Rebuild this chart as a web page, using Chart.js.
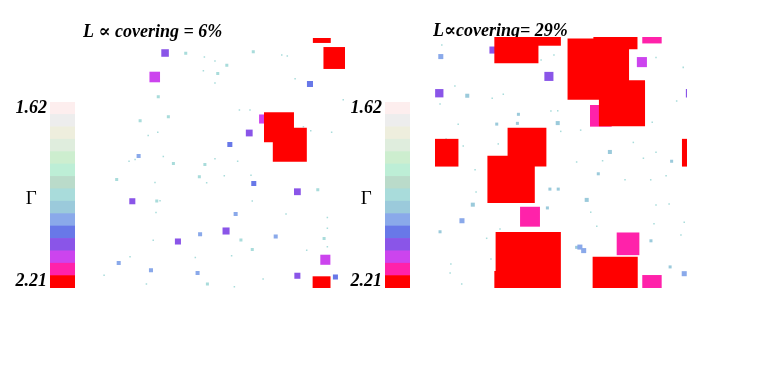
<!DOCTYPE html>
<html>
<head>
<meta charset="utf-8">
<script src="https://cdn.jsdelivr.net/npm/chart.js@4.4.1/dist/chart.umd.min.js"></script>
<style>
  body { margin: 0; background: #fff; width: 771px; height: 385px; position: relative; overflow: hidden; }
  canvas { position: absolute; }
</style>
</head>
<body>
<canvas id="barLeft" width="80" height="230" style="left:0;top:80px"></canvas>
<canvas id="sqLeft" width="262" height="268" style="left:83px;top:20px"></canvas>
<canvas id="barRight" width="80" height="230" style="left:335px;top:80px"></canvas>
<canvas id="sqRight" width="254" height="269" style="left:433px;top:19px"></canvas>
<script>
// colour scale, top (Γ = 1.62) to bottom (Γ = 2.21)
const gammaColors = ['#fdeeee', '#ededed', '#eeeedd', '#dfeddd', '#cdeecf', '#bdeed6', '#badbca',
  '#a9dcdb', '#9bcadb', '#8aa9ea', '#6878e8', '#8a55e8', '#cc44ee', '#ff22aa', '#ff0000'];
const gammaLabels = ['2.21', 'Γ', '1.62']; // bottom, middle, top
const titles = ['L ∝ covering = 6%', 'L∝covering= 29%'];

// squares: [x, y, side, colour level]  (x, y in 0..100)
const leftSquares = [
  [90.8, 101.6, 7.1, 14], [95.8, 92.0, 8.7, 14], [73.8, 64.3, 11.9, 14], [78.1, 57.3, 13.5, 14], [90.7, 1.1, 7.1, 14],
  [24.5, 84.4, 4.2, 12], [67.7, 67.6, 3.6, 12], [92.2, 11.3, 4.0, 12],
  [28.6, 94.0, 3.0, 11], [62.0, 62.0, 2.7, 11], [81.1, 38.5, 2.7, 11], [15.6, 34.7, 2.4, 11],
  [52.8, 22.8, 2.8, 11], [33.7, 18.6, 2.4, 11], [81.1, 4.9, 2.4, 11],
  [86.1, 81.6, 2.4, 10], [54.3, 57.4, 2.0, 10], [63.8, 41.8, 2.0, 10], [96.2, 4.4, 2.0, 10],
  [18.1, 52.8, 1.6, 9], [56.6, 29.6, 1.6, 9], [42.5, 21.5, 1.6, 9], [72.5, 20.6, 1.6, 9],
  [10.2, 10.0, 1.6, 9], [23.0, 7.1, 1.6, 9], [41.5, 6.0, 1.6, 9],
  [36.8, 93.9, 1.2, 7], [63.6, 94.5, 1.2, 7], [53.1, 89.1, 1.2, 7], [49.5, 85.8, 1.2, 7], [25.9, 76.5, 1.2, 7],
  [29.9, 68.5, 1.2, 7], [18.7, 66.9, 1.2, 7], [31.9, 49.8, 1.2, 7], [44.4, 49.4, 1.2, 7], [9.4, 43.4, 1.2, 7],
  [42.2, 44.5, 1.2, 7], [89.2, 39.3, 1.2, 7], [25.3, 34.8, 1.2, 7], [58.7, 19.2, 1.2, 7], [63.2, 15.4, 1.2, 7],
  [91.7, 19.8, 1.2, 7], [45.4, 1.6, 1.2, 7],
  [44.2, 92.4, 0.6, 7], [48.4, 90.8, 0.6, 7], [74.9, 93.2, 0.6, 7], [77.1, 92.8, 0.6, 7], [43.8, 86.9, 0.6, 7],
  [48.4, 82.0, 0.6, 7], [80.2, 83.7, 0.6, 7], [99.3, 75.3, 0.6, 7], [58.1, 71.2, 0.6, 7], [62.3, 71.2, 0.6, 7],
  [25.7, 62.3, 0.6, 7], [21.9, 61.0, 0.6, 7], [86.4, 62.9, 0.6, 7], [94.7, 62.3, 0.6, 7], [83.5, 64.5, 0.6, 7],
  [27.9, 52.6, 0.6, 7], [48.4, 51.7, 0.6, 7], [16.7, 51.4, 0.6, 7], [14.3, 50.7, 0.6, 7], [57.4, 50.7, 0.6, 7],
  [24.6, 42.2, 0.6, 7], [45.1, 42.1, 0.6, 7], [52.1, 44.9, 0.6, 7], [62.7, 45.1, 0.6, 7], [26.6, 34.9, 0.6, 7],
  [63.2, 34.8, 0.6, 7], [25.0, 30.2, 0.6, 7], [76.6, 29.6, 0.6, 7], [93.0, 28.2, 0.6, 7], [93.0, 23.9, 0.6, 7],
  [23.9, 19.1, 0.6, 7], [93.0, 16.5, 0.6, 7], [84.8, 15.1, 0.6, 7], [14.7, 12.5, 0.6, 7], [40.6, 12.2, 0.6, 7],
  [55.0, 12.9, 0.6, 7], [4.4, 5.1, 0.6, 7], [21.2, 1.6, 0.6, 7], [56.1, 0.5, 0.6, 7], [67.5, 3.6, 0.6, 7]
];

const rightSquares = [
  [32.3, 98.3, 17.5, 14], [44.0, 102.5, 11.9, 14], [64.8, 87.2, 24.4, 14], [71.6, 103.9, 17.5, 14],
  [74.2, 73.6, 18.3, 14], [3.8, 53.9, 11.0, 14], [103.5, 53.9, 11.0, 14], [36.5, 56.1, 15.4, 14],
  [30.2, 43.3, 18.8, 14], [37.0, 9.3, 25.9, 14], [29.5, 0.8, 11.9, 14], [71.5, 3.5, 17.9, 14],
  [86.1, 101.3, 7.7, 13], [65.8, 68.6, 8.6, 13], [37.7, 28.4, 7.9, 13], [76.6, 17.6, 9.0, 13], [86.1, 1.3, 7.7, 13],
  [82.1, 90.0, 4.0, 12],
  [23.0, 94.8, 2.8, 11], [45.2, 84.3, 3.6, 11], [1.7, 77.6, 3.3, 11], [101.2, 77.6, 3.3, 11],
  [2.3, 92.2, 2.0, 9], [10.7, 26.8, 2.0, 9], [57.5, 16.3, 2.0, 9], [59.0, 14.9, 2.0, 9], [98.9, 5.7, 2.0, 9],
  [12.8, 76.6, 1.6, 8], [48.7, 65.7, 1.6, 8], [69.4, 54.2, 1.6, 8], [60.2, 35.1, 1.6, 8], [15.0, 33.2, 1.6, 8],
  [93.9, 50.5, 1.2, 8], [45.6, 39.4, 1.2, 8], [48.9, 39.4, 1.2, 8], [44.6, 31.9, 1.2, 8], [2.0, 22.4, 1.2, 8],
  [85.7, 18.8, 1.2, 8], [93.3, 8.4, 1.2, 8], [33.1, 69.2, 1.2, 8], [24.5, 65.3, 1.2, 8], [32.7, 65.6, 1.2, 8],
  [64.8, 45.5, 1.2, 8], [56.2, 16.2, 1.2, 8],
  [2.7, 96.8, 0.6, 7], [47.2, 92.8, 0.6, 7], [42.1, 90.8, 0.6, 7], [87.7, 91.8, 0.6, 7], [98.5, 87.9, 0.6, 7],
  [7.9, 80.5, 0.6, 7], [27.1, 77.2, 0.6, 7], [22.7, 75.6, 0.6, 7], [2.0, 73.3, 0.6, 7], [46.0, 70.5, 0.6, 7],
  [48.7, 70.6, 0.6, 7], [95.9, 74.5, 0.6, 7], [49.9, 62.4, 0.6, 7], [57.8, 62.9, 0.6, 7], [86.2, 66.0, 0.6, 7],
  [9.2, 65.2, 0.6, 7], [25.1, 57.4, 0.6, 7], [11.2, 56.6, 0.6, 7], [4.4, 59.4, 0.6, 7], [78.7, 58.0, 0.6, 7],
  [82.7, 51.7, 0.6, 7], [87.7, 54.1, 0.6, 7], [15.9, 47.1, 0.6, 7], [56.2, 50.2, 0.6, 7], [66.5, 50.7, 0.6, 7],
  [75.4, 43.1, 0.6, 7], [85.6, 43.1, 0.6, 7], [91.7, 44.7, 0.6, 7], [16.3, 38.2, 0.6, 7], [61.8, 30.2, 0.6, 7],
  [87.7, 33.1, 0.6, 7], [92.9, 33.5, 0.6, 7], [64.2, 24.6, 0.6, 7], [86.9, 25.6, 0.6, 7], [25.8, 23.5, 0.6, 7],
  [20.5, 19.8, 0.6, 7], [97.6, 21.1, 0.6, 7], [98.9, 26.2, 0.6, 7], [22.2, 11.6, 0.6, 7], [6.3, 9.6, 0.6, 7],
  [6.0, 6.0, 0.6, 7], [10.6, 1.6, 0.6, 7]
];

const serif = "'Liberation Serif', 'DejaVu Serif', serif";

function colorBar(id) {
  const n = gammaColors.length;
  const datasets = gammaColors.slice().reverse().map(c => ({
    data: [1], backgroundColor: c, borderWidth: 0, barPercentage: 1, categoryPercentage: 1
  }));
  new Chart(document.getElementById(id), {
    type: 'bar',
    data: { labels: [''], datasets },
    options: {
      responsive: false,
      animation: false,
      events: [],
      layout: { padding: { top: 22, bottom: 22, left: 0, right: 5 } },
      plugins: { legend: { display: false }, tooltip: { enabled: false } },
      scales: {
        x: { stacked: true, display: false },
        y: {
          stacked: true, min: 0, max: n,
          grid: { display: false, drawTicks: false },
          border: { display: false },
          afterFit: s => { s.width = 50; },
          afterBuildTicks: s => { s.ticks = [0.5, n / 2 - 0.3, n - 0.5].map(v => ({ value: v })); },
          ticks: {
            padding: 3,
            crossAlign: 'center',
            color: '#000',
            callback: (v, i) => gammaLabels[i],
            font: ctx => ctx.index === 1
              ? { family: serif, size: 19 }
              : { family: serif, size: 18, style: 'italic', weight: 'bold' }
          }
        }
      }
    }
  });
}

function squareChart(id, title, titleSize, squares, gap) {
  const points = squares.slice()
    .sort((a, b) => a[2] - b[2])
    .map(p => ({ x: p[0], y: p[1], s: p[2], g: p[3] }));

  new Chart(document.getElementById(id), {
    type: 'scatter',
    data: {
      datasets: [{
        data: points,
        pointStyle: 'rect',
        pointBorderWidth: 0,
        clip: 0,
        pointRadius: ctx => {
          if (!ctx.raw) return 0;
          const sx = ctx.chart.scales.x;
          return Math.abs(sx.getPixelForValue(ctx.raw.s) - sx.getPixelForValue(0)) / Math.SQRT2;
        },
        pointBackgroundColor: ctx => ctx.raw ? gammaColors[ctx.raw.g] : '#000'
      }]
    },
    options: {
      responsive: false,
      animation: false,
      events: [],
      layout: { padding: 0 },
      plugins: {
        legend: { display: false },
        tooltip: { enabled: false },
        title: {
          display: true,
          text: title,
          align: 'start',
          color: '#000',
          padding: { top: 3, bottom: -3 },
          font: { family: serif, size: titleSize, style: 'italic', weight: 'bold', lineHeight: 1 }
        }
      },
      scales: {
        x: { type: 'linear', min: 0, max: 100, display: false },
        y: {
          type: 'linear', min: 0, max: 100,
          grid: { display: false },
          border: { display: false },
          ticks: { display: false },
          afterFit: s => { s.width = gap; }
        }
      }
    }
  });
}

colorBar('barLeft');
colorBar('barRight');
squareChart('sqLeft', titles[0], 18, leftSquares, 10);
squareChart('sqRight', titles[1], 18, rightSquares, 2);
</script>
</body>
</html>
